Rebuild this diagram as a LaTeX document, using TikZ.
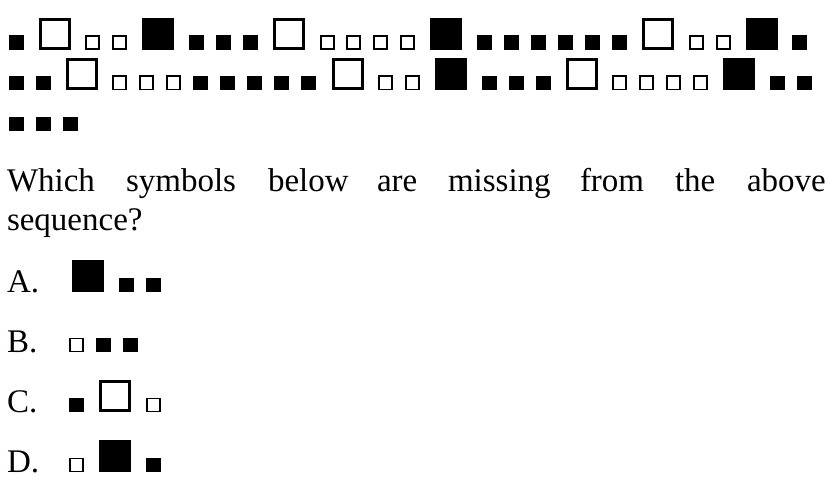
\documentclass[tikz,border=0pt]{standalone}
\usepackage{fontspec}
\setmainfont{Liberation Serif}
\tikzset{
  sq/.style={inner sep=0pt, outer sep=0pt, anchor=south west},
  sfill/.style={sq, fill=black, draw=black, line width=0.6pt, minimum size=13.9pt, xshift=0.3pt, yshift=0.3pt},
  sempty/.style={sq, fill=white, draw=black, line width=1.5pt, minimum size=13pt, xshift=0.75pt, yshift=0.75pt},
  lfill/.style={sq, fill=black, draw=black, line width=0.6pt, minimum size=31pt, xshift=0.3pt, yshift=0.3pt},
  lempty/.style={sq, fill=white, draw=black, line width=2.6pt, minimum size=29pt, xshift=1.3pt, yshift=1.3pt},
  word/.style={anchor=base west, inner sep=0pt, outer sep=0pt, font=\fontsize{33}{40}\selectfont},
}
\begin{document}
\begin{tikzpicture}[x=1pt,y=1pt]
\useasboundingbox[fill=white] (0,0) rectangle (827,-495);
% sequence, row 1
\foreach \t/\x [count=\i] in {sfill/9, lempty/39, sempty/85, sempty/112, lfill/142, sfill/189, sfill/216, sfill/243, lempty/273, sempty/320, sempty/346, sempty/373, sempty/400, lfill/430, sfill/477, sfill/504, sfill/531, sfill/558, sfill/585, sfill/612, lempty/642, sempty/689, sempty/716, lfill/746, sfill/792}
  {\edef\tmp{\noexpand\node[\t] (ra\i) at (\x,-50) {};}\tmp}
% row 2
\foreach \t/\x [count=\i] in {sfill/9, sfill/36, lempty/66, sempty/112, sempty/139, sempty/166, sfill/193, sfill/220, sfill/247, sfill/274, sfill/301, lempty/332, sempty/378, sempty/405, lfill/435, sfill/482, sfill/509, sfill/536, lempty/566, sempty/612, sempty/639, sempty/666, sempty/693, lfill/723, sfill/770, sfill/797}
  {\edef\tmp{\noexpand\node[\t] (rb\i) at (\x,-90) {};}\tmp}
% row 3
\foreach \t/\x [count=\i] in {sfill/9, sfill/36, sfill/63}
  {\edef\tmp{\noexpand\node[\t] (rc\i) at (\x,-131) {};}\tmp}
% question
\foreach \w/\x [count=\i] in {Which/7, symbols/126, below/268, are/377, missing/448, from/580, the/675, above/747}
  \node[word] (q\i) at (\x,-191) {\w};
\node[word] (q9) at (7,-230) {sequence?};
% options
\node[word] (la) at (7,-292) {A.};
\node[word] (lb) at (7,-352) {B.};
\node[word] (lc) at (7,-412) {C.};
\node[word] (ld) at (7,-472) {D.};
\foreach \t/\x [count=\i] in {lfill/72, sfill/119, sfill/146}
  {\edef\tmp{\noexpand\node[\t] (oa\i) at (\x,-292) {};}\tmp}
\foreach \t/\x [count=\i] in {sempty/69, sfill/96, sfill/123}
  {\edef\tmp{\noexpand\node[\t] (ob\i) at (\x,-352) {};}\tmp}
\foreach \t/\x [count=\i] in {sfill/69, lempty/99, sempty/146}
  {\edef\tmp{\noexpand\node[\t] (oc\i) at (\x,-412) {};}\tmp}
\foreach \t/\x [count=\i] in {sempty/69, lfill/99, sfill/146}
  {\edef\tmp{\noexpand\node[\t] (od\i) at (\x,-472) {};}\tmp}
\end{tikzpicture}
\end{document}
